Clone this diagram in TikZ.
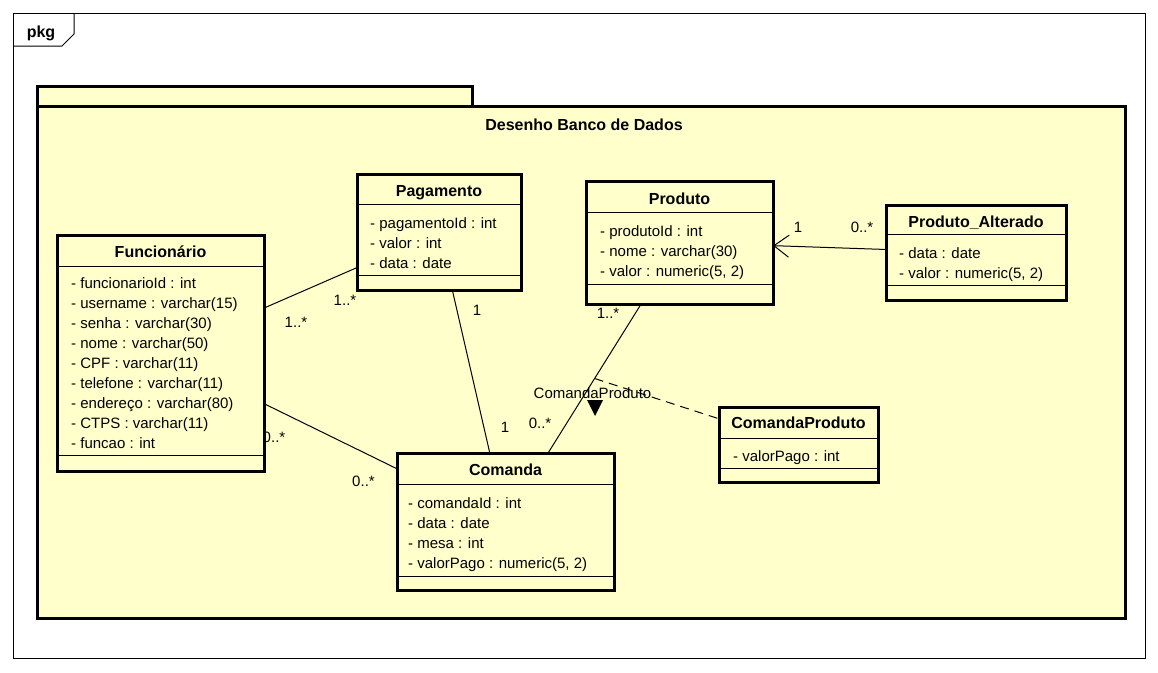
\documentclass[tikz,border=0pt]{standalone}
\usepackage{fontspec}
\setmainfont{Liberation Sans}
\usetikzlibrary{arrows.meta}
\definecolor{umlfill}{RGB}{255,255,204}
\begin{document}
\begin{tikzpicture}[x=1pt,y=-1pt,
 cls/.style={draw, line width=3pt, fill=umlfill, inner sep=0pt, outer sep=0pt},
 sepline/.style={line width=1pt},
 attr/.style={anchor=base west, inner sep=0pt, font=\fontsize{15}{18}\selectfont},
 ttl/.style={anchor=base, inner sep=0pt, font=\fontsize{16}{19}\selectfont\bfseries},
 mult/.style={inner sep=0pt, font=\fontsize{15}{18}\selectfont},
 conn/.style={line width=1pt},
]
\useasboundingbox (0,0) rectangle (1158,672);
\fill[white] (0,0) rectangle (1158,672);
% outer frame
\draw[line width=1pt] (13,13) rectangle (1145,658);
\draw[line width=1pt] (13,46) -- (62,46) -- (74,34) -- (74,13);
\node[ttl] (pkg) at (41,37) {pkg};
% package
\draw[line width=3pt, fill=umlfill] (37,86) rectangle (472,106);
\draw[line width=3pt, fill=umlfill] (37,106) rectangle (1125,618);
\node[ttl] (pkgname) at (584,130) {Desenho Banco de Dados};
% multiplicities
\node[mult] (m1) at (296,322) {1..*};
\node[mult] (m2) at (345,300) {1..*};
\node[mult] (m3) at (274,437) {0..*};
\node[mult] (m4) at (363.5,481) {0..*};
\node[mult] (m5) at (477,310) {1};
\node[mult] (m6) at (505,427) {1};
\node[mult] (m7) at (608,313) {1..*};
\node[mult] (m8) at (540,423) {0..*};
\node[mult] (m9) at (798,227) {1};
\node[mult] (m10) at (862,227) {0..*};
\node[mult] (alabel) at (592.5,393) {ComandaProduto};
% classes
\node[cls, minimum width=207pt, minimum height=236pt] (fun) at (160.5,353) {};
\node[cls, minimum width=164pt, minimum height=116pt] (pag) at (439,232) {};
\node[cls, minimum width=187pt, minimum height=123pt] (prod) at (679.5,242.5) {};
\node[cls, minimum width=180pt, minimum height=95pt] (alt) at (976,252.5) {};
\node[cls, minimum width=217pt, minimum height=137pt] (com) at (505.5,521.5) {};
\node[cls, minimum width=159pt, minimum height=75pt] (cp) at (798.5,444.5) {};
% compartments
\draw[sepline] (57,266) -- (264,266); \draw[sepline] (57,455) -- (264,455);
\draw[sepline] (357,204) -- (521,204); \draw[sepline] (357,275) -- (521,275);
\draw[sepline] (586,212) -- (773,212); \draw[sepline] (586,284) -- (773,284);
\draw[sepline] (886,234) -- (1066,234); \draw[sepline] (886,285) -- (1066,285);
\draw[sepline] (397,484) -- (614,484); \draw[sepline] (397,576) -- (614,576);
\draw[sepline] (719,438) -- (878,438); \draw[sepline] (719,468) -- (878,468);
% connectors
\draw[conn] (fun) -- (pag);
\draw[conn] (fun) -- (com);
\draw[conn] (pag) -- (com);
\draw[conn] (prod) -- coordinate[pos=0.5] (amid) (com);
\draw[conn, -{Straight Barb[length=15pt,width=22pt,line width=1pt]}] (alt) -- (prod);
\draw[conn, dash pattern=on 9pt off 6pt] (amid) -- (cp);
\fill (587,400) -- (603,400) -- (595,416) -- cycle;
% Funcionario
\node[ttl] (funt) at (160.5,257) {Funcionário};
\node[attr] (fa1) at (71,288) {- funcionarioId : int};
\node[attr] (fa2) at (71,308.1) {- username : varchar(15)};
\node[attr] (fa3) at (71,328.2) {- senha : varchar(30)};
\node[attr] (fa4) at (71,348.3) {- nome : varchar(50)};
\node[attr] (fa5) at (71,368.4) {- CPF : varchar(11)};
\node[attr] (fa6) at (71,388.5) {- telefone : varchar(11)};
\node[attr] (fa7) at (71,408.6) {- endereço : varchar(80)};
\node[attr] (fa8) at (71,428.7) {- CTPS : varchar(11)};
\node[attr] (fa9) at (71,448.8) {- funcao : int};
% Pagamento
\node[ttl] (pagt) at (439,196) {Pagamento};
\node[attr] (pa1) at (370,228) {- pagamentoId : int};
\node[attr] (pa2) at (370,248) {- valor : int};
\node[attr] (pa3) at (370,268) {- data : date};
% Produto
\node[ttl] (prodt) at (679.5,204) {Produto};
\node[attr] (pr1) at (600,236) {- produtoId : int};
\node[attr] (pr2) at (600,256) {- nome : varchar(30)};
\node[attr] (pr3) at (600,276) {- valor : numeric(5, 2)};
% Produto_Alterado
\node[ttl] (altt) at (976,227) {Produto\_Alterado};
\node[attr] (al1) at (899,258) {- data : date};
\node[attr] (al2) at (899,278) {- valor : numeric(5, 2)};
% Comanda
\node[ttl] (comt) at (505.5,475) {Comanda};
\node[attr] (co1) at (408,508) {- comandaId : int};
\node[attr] (co2) at (408,528) {- data : date};
\node[attr] (co3) at (408,548) {- mesa : int};
\node[attr] (co4) at (408,568) {- valorPago : numeric(5, 2)};
% ComandaProduto
\node[ttl] (cpt) at (798.5,428) {ComandaProduto};
\node[attr] (cp1) at (733,461) {- valorPago : int};
\end{tikzpicture}
\end{document}
